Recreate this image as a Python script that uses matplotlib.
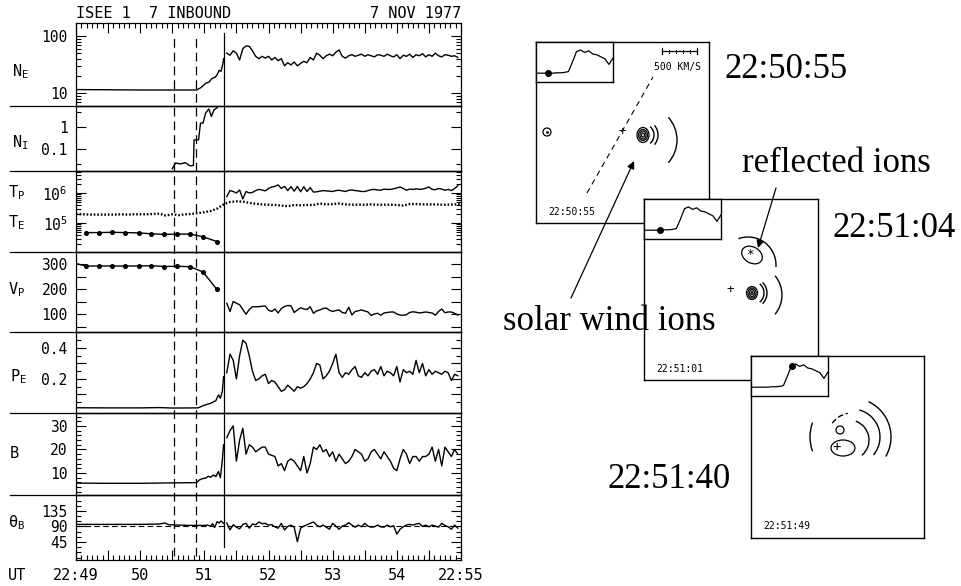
import numpy as np
import matplotlib
matplotlib.use("Agg")
import matplotlib.pyplot as plt
from matplotlib.patches import Arc, Ellipse, Circle
from matplotlib.lines import Line2D
from matplotlib.ticker import FixedLocator, FixedFormatter, NullFormatter, MultipleLocator, FuncFormatter

# ------------------------------------------------------------------ data
# time in minutes after 22:00 UT
time_ticks = [49, 50, 51, 52, 53, 54, 55]
time_labels = ['22:49', '50', '51', '52', '53', '54', '22:55']
boundary_times = [50.53, 50.87]
shock_time = 51.30
post_start = 51.35
post_step = 0.05

ne_pre_t = [49.0, 49.5, 50.0, 50.5, 50.88, 50.95, 51.02, 51.07, 51.12, 51.17, 51.20, 51.23, 51.26, 51.29, 51.30]
ne_pre = [11.5, 11.4, 11.3, 11.3, 11.3, 12.5, 14.8, 15.5, 18.0, 19.0, 21.0, 25.0, 24.0, 33.0, 40.0]
ne_post = [50, 46, 55, 50, 38, 60, 67, 66, 55, 44,
           40, 44, 41, 44, 38, 42, 37, 40, 30, 34,
           31, 35, 30, 33, 36, 34, 42, 38, 50, 46,
           40, 45, 48, 45, 52, 57, 44, 41, 45, 47,
           44, 46, 48, 44, 47, 45, 43, 47, 46, 44,
           48, 45, 43, 47, 40, 46, 44, 48, 42, 47,
           45, 49, 43, 47, 44, 50, 45, 43, 47, 46,
           44, 45, 42]

ni_t = [50.50, 50.55, 50.63, 50.70, 50.78, 50.83, 50.84, 50.91, 50.94, 50.98, 51.02, 51.07, 51.11, 51.15, 51.20]
ni = [0.0126, 0.023, 0.021, 0.024, 0.017, 0.018, 0.26, 0.26, 1.5, 1.5, 4.3, 6.6, 3.0, 6.0, 7.5]

# log10 of temperatures (K)
te_t0, te_step = 49.0, 0.1
te_log = [5.30, 5.29, 5.28, 5.28, 5.28, 5.28, 5.28, 5.29, 5.28, 5.29,
          5.29, 5.29, 5.30, 5.31, 5.25, 5.29, 5.26, 5.29, 5.30, 5.33,
          5.36, 5.40, 5.48, 5.62, 5.70, 5.72, 5.71, 5.67, 5.64, 5.62,
          5.61, 5.60, 5.58, 5.56, 5.60, 5.59, 5.60, 5.60, 5.65, 5.62,
          5.63, 5.65, 5.62, 5.61, 5.61, 5.61, 5.62, 5.61, 5.61, 5.61,
          5.60, 5.58, 5.63, 5.63, 5.62, 5.62, 5.62, 5.61, 5.61, 5.62,
          5.62]
tp_pre_t = [49.15, 49.36, 49.56, 49.77, 49.98, 50.17, 50.37, 50.57, 50.78, 50.98, 51.20]
tp_pre_log = [4.68, 4.68, 4.69, 4.68, 4.67, 4.64, 4.62, 4.63, 4.63, 4.54, 4.38]
tp_post_log = [5.88, 6.08, 6.05, 6.00, 6.10, 5.80, 6.05, 6.00, 6.02, 6.08,
               6.12, 6.10, 6.07, 6.15, 6.20, 6.22, 6.27, 6.15, 6.22, 6.08,
               6.21, 6.06, 6.22, 6.04, 6.21, 6.05, 6.18, 6.03, 6.04, 6.06,
               6.08, 6.07, 6.06, 6.05, 6.08, 6.09, 6.07, 6.05, 6.09, 6.10,
               6.08, 6.07, 6.05, 6.05, 6.08, 6.11, 6.12, 6.10, 6.09, 6.13,
               6.12, 6.12, 6.14, 6.17, 6.20, 6.15, 6.09, 6.13, 6.12, 6.14,
               6.12, 6.13, 6.16, 6.20, 6.12, 6.11, 6.15, 6.13, 6.09, 6.12,
               6.08, 6.15, 6.24]

vp_pre_t = [49.00, 49.15, 49.36, 49.56, 49.77, 49.98, 50.17, 50.37, 50.57, 50.78, 50.98, 51.19]
vp_pre = [302, 292, 292, 292, 292, 292, 293, 290, 291, 289, 268, 200]
vp_post = [143, 110, 150, 143, 137, 118, 99, 118, 129, 129,
           129, 131, 132, 115, 110, 120, 104, 122, 130, 134,
           133, 106, 116, 125, 120, 118, 129, 103, 112, 116,
           122, 124, 115, 110, 114, 116, 106, 103, 127, 96,
           110, 113, 116, 112, 108, 94, 100, 103, 95, 104,
           106, 108, 108, 100, 96, 95, 97, 106, 109, 107,
           104, 106, 108, 106, 104, 95, 110, 120, 105, 108,
           108, 103, 96]

pe_pre_t = [49.0, 49.5, 50.0, 50.3, 50.5, 50.9, 51.0, 51.1, 51.18, 51.22, 51.25, 51.28, 51.30]
pe_pre = [0.014, 0.013, 0.013, 0.015, 0.012, 0.013, 0.03, 0.043, 0.06, 0.097, 0.075, 0.118, 0.215]
pe_post = [0.24, 0.36, 0.32, 0.20, 0.35, 0.45, 0.43, 0.35, 0.25, 0.19,
           0.20, 0.22, 0.23, 0.17, 0.19, 0.18, 0.15, 0.12, 0.13, 0.16,
           0.14, 0.12, 0.15, 0.14, 0.15, 0.17, 0.20, 0.24, 0.30, 0.29,
           0.20, 0.22, 0.25, 0.30, 0.36, 0.24, 0.21, 0.24, 0.23, 0.26,
           0.28, 0.22, 0.21, 0.24, 0.22, 0.25, 0.26, 0.23, 0.28, 0.22,
           0.25, 0.24, 0.22, 0.28, 0.18, 0.26, 0.24, 0.25, 0.23, 0.32,
           0.24, 0.30, 0.22, 0.26, 0.23, 0.25, 0.24, 0.23, 0.25, 0.24,
           0.19, 0.23, 0.22]

b_pre_t = [49.0, 49.5, 50.0, 50.5, 50.88, 50.92, 50.97, 51.02, 51.06, 51.10, 51.14, 51.18, 51.22, 51.25, 51.28, 51.30]
b_pre = [5.7, 5.6, 5.6, 5.8, 5.9, 7.0, 7.6, 7.8, 8.6, 8.2, 9.1, 8.5, 10.6, 8.0, 15.5, 22.0]
b_post = [25, 28, 30, 15, 24, 29, 18, 22, 21, 19,
          20, 21, 21, 18, 17.5, 17, 13, 14, 11, 15,
          16, 15, 13, 11, 17, 10, 14, 21, 20, 22,
          19, 20, 17, 19, 15, 18, 16, 14, 15, 17,
          20, 19, 18, 15, 16, 19, 20, 18, 16, 19,
          17, 15, 12, 11, 16, 20, 18, 14, 17, 17,
          15, 17, 17, 18, 21, 15, 20, 13, 21, 19,
          17, 20, 18]

th_pre_t = [49.0, 49.5, 50.0, 50.3, 50.38, 50.45, 50.6, 50.8, 51.0, 51.05, 51.1, 51.13, 51.16, 51.2, 51.23, 51.26, 51.3]
th_pre = [96, 96, 96, 97, 100, 95, 94, 93, 93, 94, 91, 98, 87, 104, 100, 106, 99]
th_post = [100, 80, 95, 88, 83, 96, 99, 85, 97, 95,
           103, 98, 99, 94, 95, 89, 85, 99, 80, 90,
           94, 88, 46, 85, 91, 95, 99, 103, 94, 89,
           94, 88, 82, 99, 91, 82, 91, 94, 101, 94,
           88, 94, 89, 99, 91, 88, 89, 94, 89, 88,
           94, 89, 92, 68, 82, 89, 94, 96, 94, 97,
           99, 90, 94, 89, 94, 91, 88, 99, 93, 89,
           82, 94, 85]
th_ref = 90

# small inset profile shown in the snapshot boxes
inset_profile = [0.22, 0.22, 0.22, 0.22, 0.22, 0.23, 0.23, 0.24, 0.26, 0.50,
                 0.76, 0.80, 0.74, 0.78, 0.70, 0.68, 0.63, 0.58, 0.44, 0.60]
inset_dot_index = [3, 4, 10]
box_times = ['22:50:55', '22:51:01', '22:51:49']

# ------------------------------------------------------------------ style
plt.rcParams['font.family'] = ['DejaVu Sans Mono', 'DejaVu Sans']
plt.rcParams['mathtext.fontset'] = 'custom'
plt.rcParams['mathtext.rm'] = 'DejaVu Sans Mono'
plt.rcParams['mathtext.it'] = 'DejaVu Sans Mono'
plt.rcParams['mathtext.bf'] = 'DejaVu Sans Mono'

W, H = 962, 586
fig = plt.figure(figsize=(W / 100, H / 100), dpi=100)


def rect(x0, y0, x1, y1):
    return [x0 / W, 1 - y1 / H, (x1 - x0) / W, (y1 - y0) / H]


def post_times(n):
    return post_start + post_step * np.arange(n)


X0, X1 = 76, 461
bounds = [23, 106, 171, 252, 332, 413, 495, 560]
LW = 1.0
axes = []
for i in range(7):
    ax = fig.add_axes(rect(X0, bounds[i], X1, bounds[i + 1]))
    ax.set_xlim(49, 55)
    ax.patch.set_alpha(0)
    for s in ax.spines.values():
        s.set_linewidth(0.9)
    ax.tick_params(axis='y', which='both', direction='in', left=True, right=True,
                   labelsize=10.5, pad=6, width=0.8)
    ax.tick_params(axis='y', which='major', length=7)
    ax.tick_params(axis='y', which='minor', length=3.5)
    ax.tick_params(axis='x', which='both', bottom=False, top=False, labelbottom=False)
    axes.append(ax)

lab_map = {float(t): l for t, l in zip(time_ticks, time_labels)}
half_ticks = np.arange(time_ticks[0], time_ticks[-1] + 0.01, 0.5)
for ax, side in [(axes[0], 'top'), (axes[-1], 'bottom')]:
    ax.xaxis.set_major_locator(FixedLocator(half_ticks))
    ax.xaxis.set_minor_locator(MultipleLocator(1 / 12))
    if side == 'top':
        ax.tick_params(axis='x', which='both', top=True, direction='in', width=0.8)
    else:
        ax.tick_params(axis='x', which='both', bottom=True, labelbottom=True,
                       direction='in', width=0.8, labelsize=11, pad=6)
        ax.xaxis.set_major_formatter(FuncFormatter(lambda v, p: lab_map.get(round(v, 2), '')))
    ax.tick_params(axis='x', which='major', length=7)
    ax.tick_params(axis='x', which='minor', length=3.5)

# ---- N_E
ax = axes[0]
ax.set_yscale('log')
ax.set_ylim(5.92, 169)
ax.plot(ne_pre_t, ne_pre, 'k-', lw=LW)
ax.plot(post_times(len(ne_post)), ne_post, 'k-', lw=LW)
ax.yaxis.set_major_locator(FixedLocator([10, 100]))
ax.yaxis.set_major_formatter(FixedFormatter(['10', '100']))
ax.yaxis.set_minor_locator(FixedLocator([6, 7, 8, 9, 20, 30, 40, 50, 60, 70, 80, 90]))
ax.yaxis.set_minor_formatter(NullFormatter())

# ---- N_I
ax = axes[1]
ax.set_yscale('log')
ax.set_ylim(0.01, 9)
ax.plot(ni_t, ni, 'k-', lw=LW)
ax.yaxis.set_major_locator(FixedLocator([0.1, 1]))
ax.yaxis.set_major_formatter(FixedFormatter(['0.1', '1']))
ax.yaxis.set_minor_locator(FixedLocator([0.02, 5]))
ax.yaxis.set_minor_formatter(NullFormatter())

# ---- T_P, T_E
ax = axes[2]
ax.set_yscale('log')
ax.set_ylim(10 ** 4.033, 10 ** 6.733)
te_t = te_t0 + te_step * np.arange(len(te_log))
ax.plot(te_t, 10 ** np.array(te_log), color='k', lw=1.7, linestyle=(0, (0.7, 0.8)),
        dash_capstyle='butt')
ax.plot(tp_pre_t, 10 ** np.array(tp_pre_log), 'k-', lw=LW, marker='o', ms=2.6)
ax.plot(post_times(len(tp_post_log)), 10 ** np.array(tp_post_log), 'k-', lw=LW)
ax.yaxis.set_major_locator(FixedLocator([1e5, 1e6]))
ax.yaxis.set_major_formatter(FixedFormatter(['10$^{5}$', '10$^{6}$']))
ax.yaxis.set_minor_locator(FixedLocator([2e4, 3e4, 4e4, 5e4, 6e4, 7e4, 8e4, 9e4,
                                         2e5, 3e5, 4e5, 5e5, 6e5, 7e5, 8e5, 9e5, 2e6, 3e6, 4e6, 5e6]))
ax.yaxis.set_minor_formatter(NullFormatter())

# ---- V_P
ax = axes[3]
ax.set_ylim(28, 348)
ax.plot(vp_pre_t, vp_pre, 'k-', lw=LW, marker='o', ms=2.6, markevery=list(range(1, len(vp_pre))))
ax.plot(post_times(len(vp_post)), vp_post, 'k-', lw=LW)
ax.yaxis.set_major_locator(FixedLocator([50, 100, 150, 200, 250, 300]))
ax.yaxis.set_major_formatter(FixedFormatter(['', '100', '', '200', '', '300']))

# ---- P_E
ax = axes[4]
ax.set_ylim(-0.02, 0.503)
ax.plot(pe_pre_t, pe_pre, 'k-', lw=LW)
ax.plot(post_times(len(pe_post)), pe_post, 'k-', lw=LW)
ax.yaxis.set_major_locator(FixedLocator([0.1, 0.2, 0.3, 0.4]))
ax.yaxis.set_major_formatter(FixedFormatter(['', '0.2', '', '0.4']))
ax.yaxis.set_minor_locator(FixedLocator([0.05, 0.15, 0.25, 0.35, 0.45]))

# ---- B
ax = axes[5]
ax.set_ylim(0.64, 35.5)
ax.plot(b_pre_t, b_pre, 'k-', lw=LW)
ax.plot(post_times(len(b_post)), b_post, 'k-', lw=LW)
ax.yaxis.set_major_locator(FixedLocator([10, 20, 30]))
ax.yaxis.set_major_formatter(FixedFormatter(['10', '20', '30']))
ax.yaxis.set_minor_locator(MultipleLocator(2))

# ---- theta_B
ax = axes[6]
ax.set_ylim(-7, 181)
ax.axhline(th_ref, color='k', lw=0.8, linestyle=(0, (5, 3)))
ax.plot(th_pre_t, th_pre, 'k-', lw=LW)
ax.plot(post_times(len(th_post)), th_post, 'k-', lw=LW)
ax.yaxis.set_major_locator(FixedLocator([45, 90, 135]))
ax.yaxis.set_major_formatter(FixedFormatter(['45', '90', '135']))
ax.yaxis.set_minor_locator(MultipleLocator(15))

# horizontal separators extending to the label column
for b in bounds[1:-1]:
    fig.add_artist(Line2D([10 / W, X1 / W], [1 - b / H, 1 - b / H], color='k', lw=0.9))

# vertical boundary lines over the whole stack
ov = fig.add_axes(rect(X0, bounds[0], X1, bounds[-1]), zorder=5)
ov.set_xlim(49, 55)
ov.set_ylim(0, 1)
ov.axis('off')
for bt in boundary_times:
    ov.axvline(bt, ymin=0.008, ymax=0.975, color='k', lw=0.9, linestyle=(0, (7, 4)))
ov.axvline(shock_time, ymin=0.024, ymax=0.981, color='k', lw=0.9)

# panel labels
lab_fs = 11
fig.text(12 / W, 1 - 72 / H, 'N$_\\mathrm{E}$', fontsize=lab_fs, va='center')
fig.text(12 / W, 1 - 143 / H, 'N$_\\mathrm{I}$', fontsize=lab_fs, va='center')
fig.text(8 / W, 1 - 193 / H, 'T$_\\mathrm{P}$', fontsize=lab_fs, va='center')
fig.text(8 / W, 1 - 223 / H, 'T$_\\mathrm{E}$', fontsize=lab_fs, va='center')
fig.text(8 / W, 1 - 290 / H, 'V$_\\mathrm{P}$', fontsize=lab_fs, va='center')
fig.text(10 / W, 1 - 377 / H, 'P$_\\mathrm{E}$', fontsize=lab_fs, va='center')
fig.text(10 / W, 1 - 453 / H, 'B', fontsize=lab_fs, va='center')
fig.text(8 / W, 1 - 523 / H, 'θ$_\\mathrm{B}$', fontsize=lab_fs, va='center')
fig.text(8 / W, 1 - 575 / H, 'UT', fontsize=lab_fs, va='center')
fig.text(X0 / W, 1 - 13 / H, 'ISEE 1  7 INBOUND', fontsize=11, va='center', ha='left')
fig.text(X1 / W, 1 - 13 / H, '7 NOV 1977', fontsize=11, va='center', ha='right')

# ------------------------------------------------------------------ snapshot boxes
box_rects = [(536, 42, 709, 223), (644, 199, 818, 380), (751, 356, 924, 538)]
inset_w, inset_h = 77, 40
small_fs = 7
xs = np.linspace(0, 1, len(inset_profile))
boxes = []
for i, (x0, y0, x1, y1) in enumerate(box_rects):
    bx = fig.add_axes(rect(x0, y0, x1, y1), zorder=10 + 2 * i)
    bx.set_xlim(0, x1 - x0)
    bx.set_ylim(y1 - y0, 0)
    bx.set_xticks([])
    bx.set_yticks([])
    bx.set_facecolor('white')
    for s in bx.spines.values():
        s.set_linewidth(1.0)
    ins = fig.add_axes(rect(x0, y0, x0 + inset_w, y0 + inset_h), zorder=11 + 2 * i)
    ins.plot(xs, inset_profile, 'k-', lw=0.9)
    k = inset_dot_index[i]
    ins.plot(xs[k], inset_profile[k], 'ko', ms=4)
    ins.set_xlim(0, 1)
    ins.set_ylim(0, 1)
    ins.set_xticks([])
    ins.set_yticks([])
    for s in ins.spines.values():
        s.set_linewidth(1.0)
    bx.text(12, 170, box_times[i], fontsize=small_fs, va='center', ha='left')
    boxes.append(bx)


def arcs(ax, specs, **kw):
    for cx, cy, w, h, t1, t2 in specs:
        ax.add_patch(Arc((cx, cy), w, h, theta1=t1, theta2=t2, color='k', lw=kw.get('lw', 1.0),
                         linestyle=kw.get('ls', '-')))


def rings(ax, specs, angle=0):
    for cx, cy, w, h in specs:
        ax.add_patch(Ellipse((cx, cy), w, h, angle=angle, fill=False, color='k', lw=0.9))


# box 1
b1 = boxes[0]
rings(b1, [(107, 93, 12, 15), (107, 93, 9, 11), (107, 93, 6, 8), (107, 93, 3, 4)])
arcs(b1, [(107, 93, 22, 22, -50, 50), (107, 93, 30, 30, -40, 40), (107, 98, 68, 68, -42, 42)])
b1.add_patch(Circle((11, 90), 4, fill=False, color='k', lw=0.9))
b1.plot([11], [90], 'k.', ms=2)
b1.text(86, 90, '+', fontsize=9, ha='center', va='center')
b1.plot([51, 117], [151, 35], color='k', lw=0.8, linestyle=(0, (5, 4)))
b1.plot([126, 161], [9, 9], 'k-', lw=0.9)
for xt in np.linspace(126, 161, 6):
    b1.plot([xt, xt], [7.5, 10.5], 'k-', lw=0.7)
b1.plot([126, 126], [6, 12], 'k-', lw=0.9)
b1.plot([161, 161], [6, 12], 'k-', lw=0.9)
b1.text(142, 25, '500 KM/S', fontsize=small_fs, ha='center', va='center')

# box 2
b2 = boxes[1]
b2.add_patch(Ellipse((108, 56), 22, 16, angle=30, fill=False, color='k', lw=0.9))
b2.text(106, 55, '*', fontsize=9, ha='center', va='center')
arcs(b2, [(104, 66, 56, 56, -110, 4)])
rings(b2, [(108, 94, 11, 13), (108, 94, 8, 10), (108, 94, 5, 7), (108, 94, 2, 3)])
arcs(b2, [(108, 94, 24, 24, -50, 50), (108, 94, 30, 30, -45, 45), (108, 96, 60, 60, -40, 40)])
b2.text(86, 90, '+', fontsize=9, ha='center', va='center')

# box 3
b3 = boxes[2]
arcs(b3, [(101, 81, 78, 78, -65, 30), (101, 81, 56, 56, -75, 40), (98, 84, 40, 40, -70, 50),
          (101, 81, 84, 84, 160, 200)])
arcs(b3, [(101, 81, 48, 48, -145, -100)], ls=(0, (4, 2)))
b3.add_patch(Circle((89, 74), 4, fill=False, color='k', lw=0.9))
b3.add_patch(Ellipse((92, 92), 24, 16, fill=False, color='k', lw=0.9))
b3.text(86, 91, '+', fontsize=10, ha='center', va='center')

# ------------------------------------------------------------------ big annotations
top = fig.add_axes([0, 0, 1, 1], zorder=50)
top.set_xlim(0, W)
top.set_ylim(H, 0)
top.axis('off')
serif = dict(family='Liberation Serif', fontsize=25, va='baseline', ha='left')
top.text(725, 78, '22:50:55', **serif)
top.text(742, 172, 'reflected ions', **serif)
top.text(833, 237, '22:51:04', **serif)
top.text(503, 330, 'solar wind ions', **serif)
top.text(608, 488, '22:51:40', **serif)
arrow = dict(arrowstyle='-|>', color='k', lw=0.9, mutation_scale=11, shrinkA=0, shrinkB=0)
top.annotate('', xy=(634, 161), xytext=(571, 298), arrowprops=arrow)
top.annotate('', xy=(758, 248), xytext=(776, 188), arrowprops=arrow)

fig.savefig('out.png', dpi=100)
